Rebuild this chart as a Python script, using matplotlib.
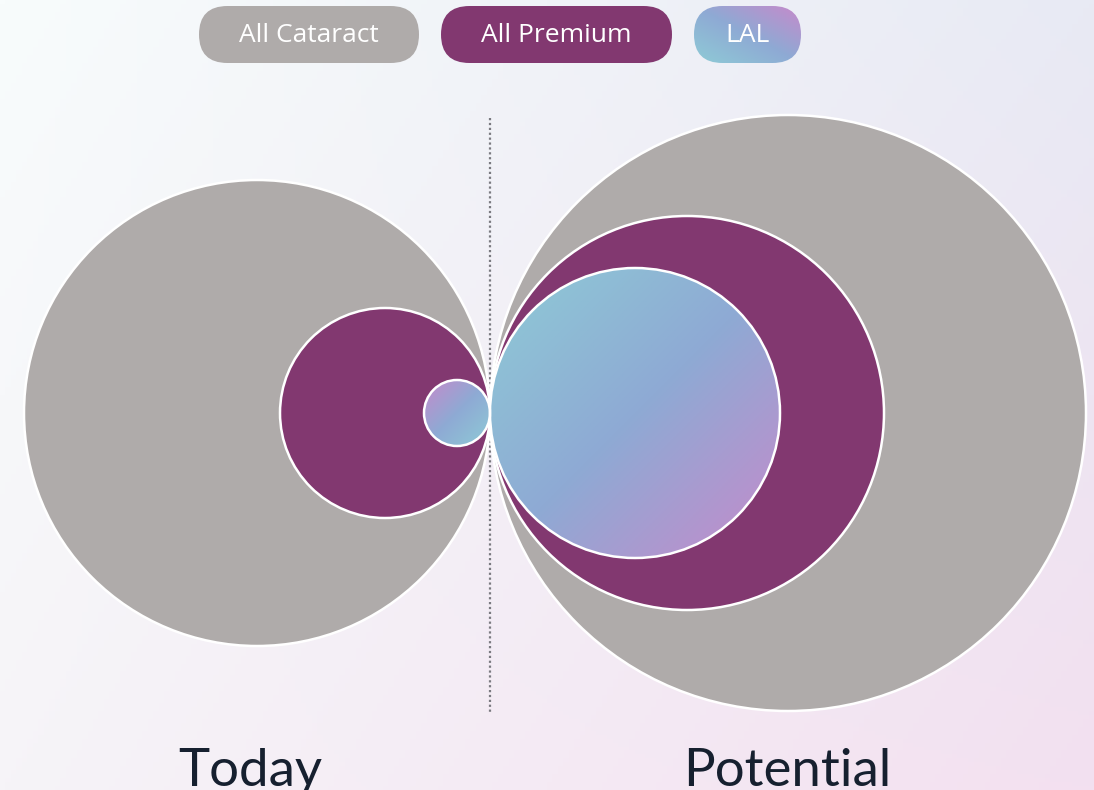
import numpy as np
import matplotlib.pyplot as plt
from matplotlib.patches import Circle, FancyBboxPatch

# Dados
periods = ['Today', 'Potential']
segments = ['All Cataract', 'All Premium', 'LAL']
today_radius = [233, 105, 33]
potential_radius = [298, 197, 145]

gray = '#afabaa'
purple = '#823870'
teal = np.array([0x8e, 0xcb, 0xd6]) / 255
blue = np.array([0x8e, 0xaa, 0xd4]) / 255
pink = np.array([0xc6, 0x8a, 0xcb]) / 255
navy = '#16202f'

plt.rcParams['font.family'] = ['Lato', 'DejaVu Sans']

fig = plt.figure(figsize=(10.94, 7.90), dpi=100)
ax = fig.add_axes([0, 0, 1, 1])
ax.set_xlim(0, 1094)
ax.set_ylim(790, 0)
ax.axis('off')


def grad(n, start, end, flip=False):
    # gradiente diagonal de tres paradas
    t = np.linspace(0, 1, n)
    tt = (t[None, :] + (t[::-1][:, None] if flip else t[:, None])) / 2
    tt = tt[..., None]
    a = np.clip(tt * 2, 0, 1)
    b = np.clip(tt * 2 - 1, 0, 1)
    first = start * (1 - a) + blue * a
    return np.where(tt < 0.5, first, blue * (1 - b) + end * b)


# fondo
c_tl = np.array([0xf8, 0xfc, 0xfc]) / 255
c_tr = np.array([0xe8, 0xea, 0xf4]) / 255
c_bl = np.array([0xf6, 0xf4, 0xf8]) / 255
c_br = np.array([0xf3, 0xe0, 0xf0]) / 255
u = np.linspace(0, 1, 200)[None, :, None]
v = np.linspace(0, 1, 200)[:, None, None]
bg = (c_tl * (1 - u) * (1 - v) + c_tr * u * (1 - v) + c_bl * (1 - u) * v + c_br * u * v)
ax.imshow(bg, extent=(0, 1094, 790, 0), zorder=0, aspect='auto')

# separador
mid_x = 490
cy = 413
ax.plot([mid_x, mid_x], [118, 712], color='#7a7a80', lw=1.6, ls=(0, (1, 1.2)), zorder=1)


def draw_group(radii, side):
    for i, r in enumerate(radii):
        cx = mid_x - r if side == 'left' else mid_x + r
        if segments[i] == 'LAL':
            c = Circle((cx, cy), r, facecolor='none', edgecolor='white', lw=1.8, zorder=2 + i)
            ax.add_patch(c)
            img = grad(100, pink, teal) if side == 'left' else grad(100, teal, pink)
            im = ax.imshow(img, extent=(cx - r, cx + r, cy + r, cy - r), zorder=2 + i - 0.5, aspect='auto')
            im.set_clip_path(c)
        else:
            ax.add_patch(Circle((cx, cy), r, facecolor=gray if i == 0 else purple,
                                edgecolor='white', lw=1.8, zorder=2 + i))


draw_group(today_radius, 'left')
draw_group(potential_radius, 'right')

# leyenda
pills = [(199, 220, gray), (441, 231, purple), (694, 107, None)]
for (x0, w, col), label in zip(pills, segments):
    box = FancyBboxPatch((x0, 6), w, 57, boxstyle='round,pad=0,rounding_size=28.5',
                         facecolor=col if col else 'none', edgecolor='none', zorder=5)
    ax.add_patch(box)
    if col is None:
        img = grad(100, teal, pink, flip=True)
        im = ax.imshow(img, extent=(x0, x0 + w, 63, 6), zorder=4.5, aspect='auto')
        im.set_clip_path(box)
    ax.text(x0 + w / 2, 35, label, color='white', fontsize=19, family=['Open Sans', 'DejaVu Sans'],
            ha='center', va='center', zorder=6)

# rótulos
ax.text(250, 786, periods[0], color=navy, fontsize=38, ha='center', va='baseline')
ax.text(787, 786, periods[1], color=navy, fontsize=38, ha='center', va='baseline')

fig.savefig('out.png', dpi=100)
